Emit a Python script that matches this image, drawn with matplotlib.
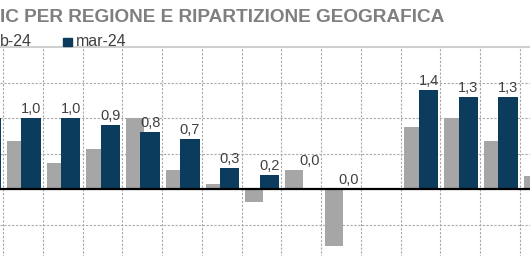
import numpy as np
import matplotlib
matplotlib.use("Agg")
import matplotlib.pyplot as plt
from matplotlib.patches import Rectangle

# ---- data (visible portion of the chart) ----
categories = [f"cat{i}" for i in range(15)]
feb_24 = [np.nan, 0.67, 0.37, 0.57, 1.0, 0.27, 0.07, -0.19, 0.27, -0.80, np.nan, 0.87, 1.0, 0.67, 0.18]
mar_24 = [1.0, 1.0, 1.0, 0.9, 0.8, 0.7, 0.3, 0.2, 0.0, 0.0, np.nan, 1.4, 1.3, 1.3, np.nan]
series_labels = ["b-24", "mar-24"]
title_text = "IC PER REGIONE E RIPARTIZIONE GEOGRAFICA"

GRAY = "#a6a6a6"
BLUE = "#0b3c5d"
TXT = "#404040"

W, H, DPI = 530, 256, 100
fig = plt.figure(figsize=(W / DPI, H / DPI), dpi=DPI)

def fx(px):
    return px / W

def fy(py):
    return (H - py) / H

# axes: top at y=47px (value 2.0), 71 px per unit -> value -1 at 260px
top_px, unit_px = 47, 71
ax = fig.add_axes([0, fy(top_px + 3 * unit_px), 1, 3 * unit_px / H])
cat_px = 39.77
x0 = 1 - 3 / cat_px
ax.set_xlim(x0, x0 + W / cat_px)
ax.set_ylim(-1, 2)

idx = np.arange(len(categories))
feb = np.array(feb_24, dtype=float)
mar = np.array(mar_24, dtype=float)

ax.bar(idx + 0.32, np.nan_to_num(feb), width=0.45, color=GRAY, zorder=2,
       linewidth=0)
ax.bar(idx + 0.70, np.nan_to_num(mar), width=0.49, color=BLUE, zorder=3,
       linewidth=0)

# value labels for mar-24
for i, (g, b) in enumerate(zip(feb, mar)):
    if np.isnan(b):
        continue
    ly = b if b != 0 else max(0.0, 0.0 if np.isnan(g) else g)
    ax.annotate(f"{b:.1f}".replace(".", ","), (i + 0.70, ly),
                xytext=(0, 3.5), textcoords="offset points",
                ha="center", va="baseline", fontsize=10.5, color=TXT,
                family=["Liberation Sans", "DejaVu Sans"], zorder=5)

# grid
ax.set_xticks(np.arange(1, 15))
ax.set_yticks([-1, -0.5, 0, 0.5, 1, 1.5])
ax.tick_params(length=0, labelbottom=False, labelleft=False)
ax.grid(True, color="#a8a8a8", linestyle=(0, (2, 1.5)), linewidth=0.8, zorder=0)
ax.axhline(0, color="black", linewidth=1.6, zorder=4)
for s in ["left", "right", "bottom"]:
    ax.spines[s].set_visible(False)
ax.spines["top"].set_color("#cfcfcf")
ax.spines["top"].set_linewidth(1.5)

# title and legend
fam = ["Liberation Sans", "DejaVu Sans"]
fig.text(fx(0), fy(22.5), title_text, fontsize=13.7, fontweight="bold",
         color="#7f7f7f", family=fam, va="baseline", ha="left")
fig.text(fx(0), fy(46), series_labels[0], fontsize=11.5, color=TXT,
         family=fam, va="baseline", ha="left")
fig.add_artist(Rectangle((fx(63), fy(46)), 9 / W, 8 / H, color=BLUE,
                         transform=fig.transFigure))
fig.text(fx(76), fy(46), series_labels[1], fontsize=11.5, color=TXT,
         family=fam, va="baseline", ha="left")

fig.savefig("out.png", dpi=DPI)
